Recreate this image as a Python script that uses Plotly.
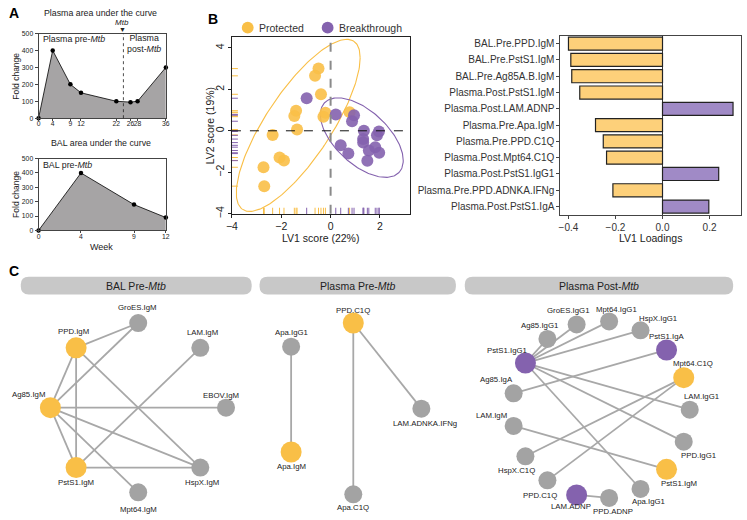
import numpy as np
import plotly.graph_objects as go

W, H = 747, 520
FONT = "Liberation Sans, Arial, sans-serif"

# ---------------- Panel A data ----------------
plasma_weeks = [0, 4, 9, 12, 22, 26, 28, 36]
plasma_fold = [0, 400, 200, 150, 100, 95, 100, 300]
bal_weeks = [0, 4, 9, 12]
bal_fold = [0, 400, 180, 90]
mtb_week = 24
fold_ticks = [0, 100, 200, 300, 400, 500]

# ---------------- Panel B scores ----------------
prot_lv1 = [-0.49, -0.63, -0.39, -1.40, -1.47, -0.21, -0.29, 0.77, -1.36, -2.35, -2.07, -1.89, -2.72, -2.69]
prot_lv2 = [3.00, 2.65, 1.76, 0.97, 0.71, 0.87, 0.68, 0.90, 0.06, -0.20, -1.29, -1.43, -1.76, -2.67]
brk_lv1 = [-0.97, 0.21, 0.95, 0.87, 1.35, 1.96, 1.88, 1.32, 1.32, 0.41, 1.81, 1.55, 1.97, 0.72, 1.49]
brk_lv2 = [1.57, 0.79, 0.75, 0.46, 0.00, -0.03, -0.22, -0.40, -0.57, -0.70, -0.79, -0.95, -1.06, -1.10, -1.44]
score_ticks = [-4, -2, 0, 2, 4]

# ---------------- Panel B loadings ----------------
load_features = ["BAL.Pre.PPD.IgM", "BAL.Pre.PstS1.IgM", "BAL.Pre.Ag85A.B.IgM",
                 "Plasma.Post.PstS1.IgM", "Plasma.Post.LAM.ADNP", "Plasma.Pre.Apa.IgM",
                 "Plasma.Pre.PPD.C1Q", "Plasma.Post.Mpt64.C1Q", "Plasma.Post.PstS1.IgG1",
                 "Plasma.Pre.PPD.ADNKA.IFNg", "Plasma.Post.PstS1.IgA"]
load_values = [-0.400, -0.390, -0.386, -0.352, 0.300, -0.285, -0.252, -0.238, 0.239, -0.211, 0.197]
load_ticks = [-0.4, -0.2, 0.0, 0.2]

# ---------------- Panel C networks ----------------
bal_nodes = ["EBOV.IgM", "LAM.IgM", "GroES.IgM", "PPD.IgM", "Ag85.IgM", "PstS1.IgM", "Mpt64.IgM", "HspX.IgM"]
bal_group = ["none", "none", "none", "Protected", "Protected", "Protected", "none", "none"]
bal_edges = [("PPD.IgM", "GroES.IgM"), ("Ag85.IgM", "GroES.IgM"), ("Ag85.IgM", "PPD.IgM"),
             ("PPD.IgM", "PstS1.IgM"), ("PPD.IgM", "HspX.IgM"), ("Ag85.IgM", "EBOV.IgM"),
             ("Ag85.IgM", "HspX.IgM"), ("Ag85.IgM", "PstS1.IgM"), ("Ag85.IgM", "Mpt64.IgM"),
             ("PstS1.IgM", "LAM.IgM"), ("PstS1.IgM", "HspX.IgM")]
bal_label_off = [(-5, 12), (2, 15), (-1, 16), (-3, 16), (-22, 13), (0, -15), (0, -17), (2, -15)]

pre_nodes = ["PPD.C1Q", "Apa.IgG1", "LAM.ADNKA.IFNg", "Apa.IgM", "Apa.C1Q"]
pre_group = ["Protected", "none", "none", "Protected", "none"]
pre_layout_x = [0, -63, 69, -63, 0]
pre_layout_y = [87, 63, 0, -44, -87]
pre_edges = [("Apa.IgG1", "Apa.IgM"), ("PPD.C1Q", "Apa.C1Q"), ("PPD.C1Q", "LAM.ADNKA.IFNg")]
pre_label_off = [(0, 13), (0, 14), (4, -15), (0, -14), (0, -13)]

post_nodes = ["LAM.IgG1", "Mpt64.C1Q", "PstS1.IgA", "HspX.IgG1", "Mpt64.IgG1", "GroES.IgG1",
              "Ag85.IgG1", "PstS1.IgG1", "Ag85.IgA", "LAM.IgM", "HspX.C1Q", "PPD.C1Q",
              "LAM.ADNP", "PPD.ADNP", "Apa.IgG1", "PstS1.IgM", "PPD.IgG1"]
post_group = ["none", "Protected", "Breakthrough", "none", "none", "none",
              "none", "Breakthrough", "none", "none", "none", "none",
              "Breakthrough", "none", "none", "Protected", "none"]
post_edges = [("PstS1.IgG1", "Ag85.IgG1"), ("PstS1.IgG1", "GroES.IgG1"), ("PstS1.IgG1", "Mpt64.IgG1"),
              ("PstS1.IgG1", "HspX.IgG1"), ("PstS1.IgG1", "LAM.IgG1"), ("PstS1.IgG1", "PPD.IgG1"),
              ("PstS1.IgG1", "Apa.IgG1"), ("Ag85.IgA", "PstS1.IgA"), ("LAM.IgM", "PstS1.IgM"),
              ("HspX.C1Q", "Mpt64.C1Q"), ("PPD.C1Q", "Mpt64.C1Q"), ("LAM.ADNP", "PPD.ADNP")]
post_label_off = [(12, 13), (9, 14), (0, 13), (17, 12), (7, 12), (-9, 14),
                  (-8, 13), (-18, 13), (-17, 14), (-22, 10), (-9, -14), (-7, -15),
                  (-6, -12), (4, -14), (8, -13), (12, -14), (15, -14)]

# ---------------- styles ----------------
YEL = "#F9BF47"
PUR = "#8462AE"
BAR_YEL = "#FDD07A"
BAR_PUR = "#A08AC6"
NODE_GRAY = "#A3A3A3"
EDGE = "#A8A8A8"
AREA = "#A6A4A5"
TXT = "#222222"


def px(x):
    return x / W


def py(y):
    return 1 - y / H


def xd(a, b):
    return [a / W, b / W]


def yd(top, bottom):
    return [1 - bottom / H, 1 - top / H]


annotations = []
shapes = []


def ann(x, y, text, size=9, xanchor="center", yanchor="middle", angle=0, color=TXT, family=FONT):
    annotations.append(dict(x=px(x), y=py(y), xref="paper", yref="paper", text=text, showarrow=False,
                            xanchor=xanchor, yanchor=yanchor, textangle=angle,
                            font=dict(size=size, color=color, family=family)))


fig = go.Figure()

# ---------------- Panel A ----------------
fig.add_trace(go.Scatter(x=plasma_weeks, y=plasma_fold, mode="lines+markers", fill="tozeroy",
                         fillcolor=AREA, line=dict(color="black", width=0.8),
                         marker=dict(color="black", size=4.5), cliponaxis=False,
                         xaxis="x", yaxis="y", showlegend=False))
fig.add_trace(go.Scatter(x=bal_weeks, y=bal_fold, mode="lines+markers", fill="tozeroy",
                         fillcolor=AREA, line=dict(color="black", width=0.8),
                         marker=dict(color="black", size=4.5), cliponaxis=False,
                         xaxis="x2", yaxis="y2", showlegend=False))
shapes.append(dict(type="line", xref="x", yref="y domain", x0=mtb_week, x1=mtb_week, y0=0, y1=1,
                   line=dict(color="#222", width=0.8, dash="dot")))

# ---------------- Panel B scores ----------------
XLIM = [-4, 3.2]
YLIM = [-4, 4.5]


def trob_ellipse(x, y, level=0.95, nu=5, n_seg=200):
    """Robust multivariate-t ellipse (as ggplot2::stat_ellipse, type='t')."""
    X0 = np.column_stack([x, y]).astype(float)
    n, p = X0.shape
    w = np.ones(n)
    loc = X0.mean(0)
    for _ in range(50):
        w_old = w
        Xc = X0 - loc
        A = np.sqrt(w / w.sum())[:, None] * Xc
        _, s, vt = np.linalg.svd(A, full_matrices=False)
        wX = Xc @ vt.T @ np.diag(1 / s)
        Q = (wX ** 2).sum(1)
        w = (nu + p) / (nu + Q)
        loc = (w[:, None] * X0).sum(0) / w.sum()
        if np.all(np.abs(w - w_old) < 0.01):
            break
    cov = (np.sqrt(w)[:, None] * Xc).T @ (np.sqrt(w)[:, None] * Xc) / n
    dfd = n - 1
    fq = (dfd / 2.0) * ((1 - level) ** (-2.0 / dfd) - 1)
    radius = np.sqrt(2 * fq)
    ch = np.linalg.cholesky(cov).T
    t = np.linspace(0, 2 * np.pi, n_seg)
    circ = np.column_stack([np.cos(t), np.sin(t)])
    pts = loc + radius * (circ @ ch)
    return pts[:, 0], pts[:, 1]


for xs, ys, col in [(prot_lv1, prot_lv2, YEL), (brk_lv1, brk_lv2, PUR)]:
    ex, ey = trob_ellipse(xs, ys)
    fig.add_trace(go.Scatter(x=ex, y=ey, mode="lines", line=dict(color=col, width=1.1),
                             xaxis="x3", yaxis="y3", showlegend=False, hoverinfo="skip"))

for xs, ys, col, name in [(prot_lv1, prot_lv2, YEL, "Protected"), (brk_lv1, brk_lv2, PUR, "Breakthrough")]:
    fig.add_trace(go.Scatter(x=xs, y=ys, mode="markers", name=name,
                             marker=dict(color=col, size=12, opacity=0.9, line=dict(width=0)),
                             xaxis="x3", yaxis="y3", showlegend=False))
    fig.add_trace(go.Scatter(x=xs, y=[YLIM[0] + 0.12] * len(xs), mode="markers",
                             marker=dict(symbol="line-ns", size=5, line=dict(color=col, width=1)),
                             xaxis="x3", yaxis="y3", showlegend=False, hoverinfo="skip", cliponaxis=False))
    fig.add_trace(go.Scatter(x=[XLIM[0] + 0.1] * len(ys), y=ys, mode="markers",
                             marker=dict(symbol="line-ew", size=5, line=dict(color=col, width=1)),
                             xaxis="x3", yaxis="y3", showlegend=False, hoverinfo="skip", cliponaxis=False))

shapes.append(dict(type="line", xref="x3", yref="y3 domain", x0=0, x1=0, y0=0, y1=1,
                   line=dict(color="#8a8a8a", width=2, dash="dash")))
shapes.append(dict(type="line", xref="x3 domain", yref="y3", x0=0, x1=1, y0=0, y1=0,
                   line=dict(color="#111", width=1, dash="dash")))

# ---------------- Panel B loadings ----------------
bar_cols = [BAR_PUR if v > 0 else BAR_YEL for v in load_values]
fig.add_trace(go.Bar(x=load_values, y=load_features, orientation="h", width=0.8,
                     marker=dict(color=bar_cols, line=dict(color="#222", width=1.2)),
                     xaxis="x4", yaxis="y4", showlegend=False))


# ---------------- Panel C networks ----------------
def circle_layout(n, rx, ry):
    th = 2 * np.pi * np.arange(n) / n
    return list(rx * np.cos(th)), list(ry * np.sin(th))


def node_color(g):
    return {"Protected": YEL, "Breakthrough": PUR}.get(g, NODE_GRAY)


def node_size(g):
    return 21 if g in ("Protected", "Breakthrough") else 18


def draw_network(nodes, groups, lx, ly, edges, offs, ax, ay):
    pos = {n: (lx[i], ly[i]) for i, n in enumerate(nodes)}
    ex, ey = [], []
    for a, b in edges:
        ex += [pos[a][0], pos[b][0], None]
        ey += [pos[a][1], pos[b][1], None]
    fig.add_trace(go.Scatter(x=ex, y=ey, mode="lines", line=dict(color=EDGE, width=1.8),
                             xaxis=ax, yaxis=ay, showlegend=False, hoverinfo="skip"))
    fig.add_trace(go.Scatter(x=lx, y=ly, mode="markers", text=nodes,
                             marker=dict(color=[node_color(g) for g in groups],
                                         size=[node_size(g) for g in groups], opacity=1,
                                         line=dict(width=0)),
                             xaxis=ax, yaxis=ay, showlegend=False, cliponaxis=False))
    for i, n in enumerate(nodes):
        annotations.append(dict(x=lx[i], y=ly[i], xref=ax, yref=ay, text=n, showarrow=False,
                                xshift=offs[i][0], yshift=offs[i][1],
                                font=dict(size=7.8, color=TXT, family=FONT)))


bx, by = circle_layout(len(bal_nodes), 89, 86)
draw_network(bal_nodes, bal_group, bx, by, bal_edges, bal_label_off, "x5", "y5")
draw_network(pre_nodes, pre_group, pre_layout_x, pre_layout_y, pre_edges, pre_label_off, "x6", "y6")
qx, qy = circle_layout(len(post_nodes), 90, 90)
draw_network(post_nodes, post_group, qx, qy, post_edges, post_label_off, "x7", "y7")


def rrect(x0, y0, x1, y1, r):
    pts = [("M", x0 + r, y0), ("L", x1 - r, y0), ("Q", x1, y0, x1, y0 + r), ("L", x1, y1 - r),
           ("Q", x1, y1, x1 - r, y1), ("L", x0 + r, y1), ("Q", x0, y1, x0, y1 - r),
           ("L", x0, y0 + r), ("Q", x0, y0, x0 + r, y0)]
    s = ""
    for p in pts:
        coords = p[1:]
        cs = [f"{px(coords[k]):.5f},{py(coords[k + 1]):.5f}" for k in range(0, len(coords), 2)]
        s += p[0] + " " + " ".join(cs) + " "
    return s + "Z"


headers = [(15, 249, "BAL Pre-<i>Mtb</i>"), (257, 456, "Plasma Pre-<i>Mtb</i>"),
           (465, 737, "Plasma Post-<i>Mtb</i>")]
for x0, x1, t in headers:
    shapes.append(dict(type="path", xref="paper", yref="paper", path=rrect(x0, 277, x1, 295, 8),
                       fillcolor="#C8C8C8", line=dict(width=0), layer="below"))
    ann((x0 + x1) / 2, 286.5, t, size=10.5, color="#222")

# ---------------- texts ----------------
ann(8, 9, "<b>A</b>", size=14, color="black")
ann(210, 15, "<b>B</b>", size=14, color="black")
ann(8, 271, "<b>C</b>", size=14, color="black")

ann(96, 9, "Plasma area under the curve", size=8.8)
ann(118, 19, "<i>Mtb</i>", size=8)
ann(118, 25.5, "▼", size=7)
ann(35, 36, "Plasma pre-<i>Mtb</i>", size=8.8, xanchor="left")
ann(121, 40, "Plasma<br>post-<i>Mtb</i>", size=8.8, xanchor="left")
ann(96, 141, "BAL area under the curve", size=8.8)
ann(35, 164, "BAL pre-<i>Mtb</i>", size=8.8, xanchor="left")
ann(10, 73, "Fold change", size=8.5, angle=-90)
ann(10, 193, "Fold change", size=8.5, angle=-90)
ann(97, 247, "Week", size=9)

ann(207, 124, "LV2 score (19%)", size=10.5, angle=-90)
ann(319, 238, "LV1 score (22%)", size=10.5)
ann(653, 238, "LV1 Loadings", size=10.5)

for cx, col, label in [(245, YEL, "Protected"), (326, PUR, "Breakthrough")]:
    shapes.append(dict(type="circle", xref="paper", yref="paper", x0=px(cx - 6), x1=px(cx + 6),
                       y0=py(30), y1=py(18), fillcolor=col, line=dict(width=0)))
    ann(cx + 9, 24, label, size=10.5, xanchor="left", color="#333")

# ---------------- axes ----------------
tickf = dict(size=6.8, color=TXT, family=FONT)
frame = dict(showline=True, mirror=True, linecolor="#444", linewidth=1, showgrid=False,
             zeroline=False, ticks="outside", tickwidth=0.8, tickcolor="#444")

layout_axes = dict(
    xaxis=dict(domain=xd(33, 162), range=[0, 36], tickvals=plasma_weeks, tickfont=tickf,
               tickangle=0, anchor="y", ticklen=2, ticklabelstandoff=-3, **frame),
    yaxis=dict(domain=yd(30, 116), range=[0, 500], tickvals=fold_ticks, tickfont=tickf,
               anchor="x", ticklen=3, **frame),
    xaxis2=dict(domain=xd(33, 162), range=[0, 12], tickvals=bal_weeks, tickfont=tickf,
                tickangle=0, anchor="y2", ticklen=2, ticklabelstandoff=-3, **frame),
    yaxis2=dict(domain=yd(157, 230), range=[0, 500], tickvals=fold_ticks, tickfont=tickf,
                anchor="x2", ticklen=3, **frame),
    xaxis3=dict(domain=xd(229, 409), range=XLIM, tickvals=score_ticks[:4], anchor="y3",
                tickfont=dict(size=10.5, color=TXT, family=FONT), showline=True, mirror=True,
                linecolor="#222", linewidth=1.2, showgrid=False, zeroline=False, ticks="outside",
                ticklen=3, tickcolor="#222", tickangle=0),
    yaxis3=dict(domain=yd(34, 213), range=YLIM, tickvals=score_ticks, anchor="x3", tickangle=-90,
                tickfont=dict(size=10.5, color=TXT, family=FONT), showline=True, mirror=True,
                linecolor="#222", linewidth=1.2, showgrid=False, zeroline=False, ticks="outside",
                ticklen=3, tickcolor="#222"),
    xaxis4=dict(domain=xd(562, 745), range=[-0.434, 0.334], tickvals=load_ticks, tickformat=".1f",
                anchor="y4", tickfont=dict(size=10, color="#333", family=FONT), showline=True,
                mirror=True, linecolor="#444", linewidth=1.2, showgrid=False, zeroline=True,
                zerolinecolor="#333", zerolinewidth=1, ticks="outside", ticklen=3, tickcolor="#444",
                tickangle=0),
    yaxis4=dict(domain=yd(32, 214), autorange="reversed", anchor="x4", categoryorder="array",
                categoryarray=load_features, tickfont=dict(size=10, color="#333", family=FONT),
                showline=True, mirror=True, linecolor="#444", linewidth=1.2, showgrid=False,
                zeroline=False, ticks="outside", ticklen=3, tickcolor="#444"),
)

net_axes = [("5", (10, 250), 134, 410), ("6", (257, 449), 352, 411), ("7", (456, 745), 603, 412)]
for k, (x0, x1), cx, cy in net_axes:
    layout_axes["xaxis" + k] = dict(domain=xd(x0, x1), range=[x0 - cx, x1 - cx], visible=False,
                                    anchor="y" + k, fixedrange=True)
    layout_axes["yaxis" + k] = dict(domain=yd(300, 520), range=[cy - 520, cy - 300], visible=False,
                                    anchor="x" + k, fixedrange=True)

fig.update_layout(
    width=W, height=H, margin=dict(l=0, r=0, t=0, b=0), paper_bgcolor="white",
    plot_bgcolor="white", font=dict(family=FONT, color=TXT), showlegend=False,
    annotations=annotations, shapes=shapes, bargap=0.2, **layout_axes,
)

fig.write_html("out.html", config={"displayModeBar": False},
               post_script="document.body.style.margin='0px';document.body.style.overflow='hidden';")
